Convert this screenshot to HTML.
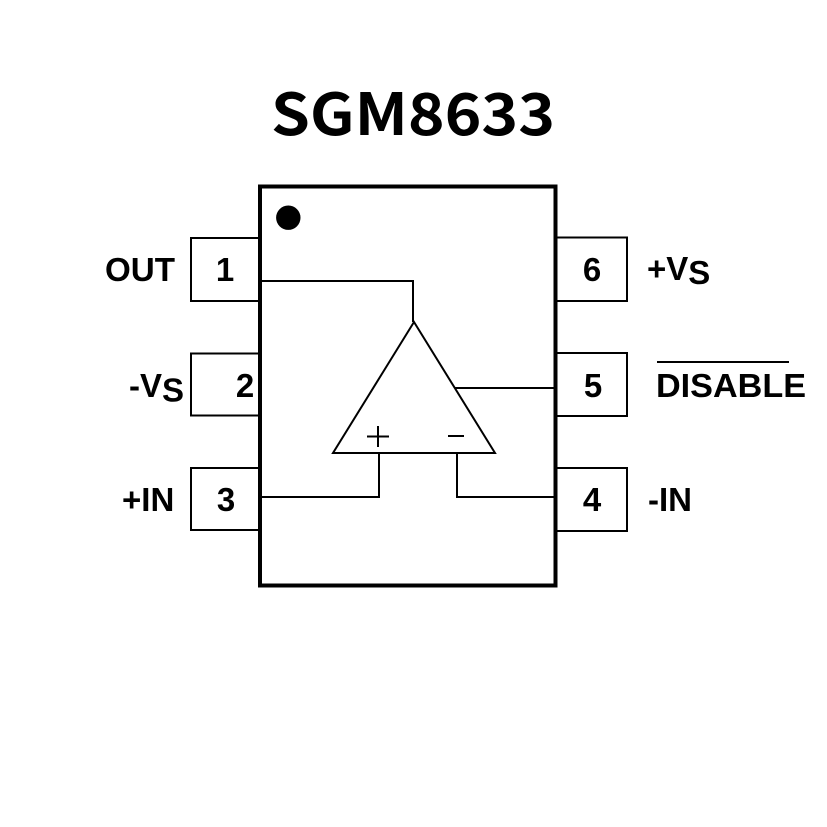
<!DOCTYPE html>
<html><head><meta charset="utf-8"><style>html,body{margin:0;padding:0;background:#fff;}svg{display:block;}</style></head>
<body>
<svg width="827" height="827" viewBox="0 0 827 827" xmlns="http://www.w3.org/2000/svg">
<rect width="827" height="827" fill="#fff"/>
<text x="271" y="135" font-family="'Noto Sans CJK SC','Liberation Sans',sans-serif" font-weight="bold" font-size="58" textLength="284" lengthAdjust="spacingAndGlyphs" fill="#000">SGM8633</text>
<g fill="none" stroke="#000" stroke-width="2">
<rect x="191" y="238" width="69" height="63"/>
<rect x="191" y="353.5" width="69" height="62"/>
<rect x="191" y="468" width="69" height="62"/>
<rect x="555" y="237.5" width="72" height="63.5"/>
<rect x="555" y="353" width="72" height="63"/>
<rect x="555" y="468" width="72" height="63"/>
<polygon points="414,322 333,453 495,453"/>
<polyline points="262,281 413,281 413,322"/>
<line x1="455" y1="388" x2="556" y2="388"/>
<polyline points="379,453 379,497 262,497"/>
<polyline points="457,453 457,497 556,497"/>
<line x1="367" y1="436.5" x2="389" y2="436.5"/>
<line x1="378" y1="426" x2="378" y2="447"/>
<line x1="448" y1="436" x2="464" y2="436"/>
<line x1="657" y1="362" x2="789" y2="362"/>
</g>
<rect x="260" y="186.5" width="295.5" height="399" fill="none" stroke="#000" stroke-width="4"/>
<circle cx="288.3" cy="217.7" r="12.2" fill="#000"/>
<g font-family="'Liberation Sans',Arial,sans-serif" font-weight="bold" font-size="33" fill="#000">
<text x="105" y="281" textLength="70" lengthAdjust="spacingAndGlyphs">OUT</text>
<text x="225" y="281" text-anchor="middle">1</text>
<text x="129" y="397">-V<tspan dy="4.5">S</tspan></text>
<text x="245" y="397" text-anchor="middle">2</text>
<text x="122" y="511">+IN</text>
<text x="226" y="511" text-anchor="middle">3</text>
<text x="592" y="281" text-anchor="middle">6</text>
<text x="647" y="280">+V<tspan dy="4">S</tspan></text>
<text x="593" y="397" text-anchor="middle">5</text>
<text x="656" y="397" textLength="150" lengthAdjust="spacingAndGlyphs">DISABLE</text>
<text x="592" y="511" text-anchor="middle">4</text>
<text x="648" y="511">-IN</text>
</g>
</svg>
</body></html>
